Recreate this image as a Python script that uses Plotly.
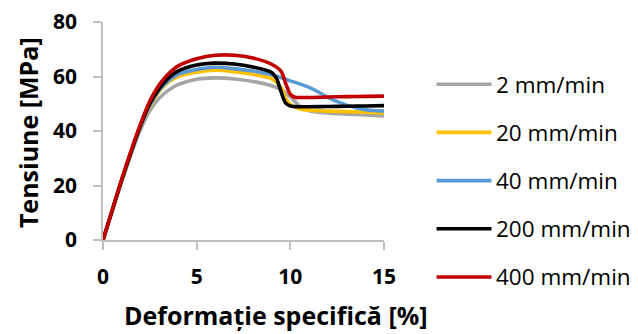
import plotly.graph_objects as go

# ---------------- data ----------------
series_names = ["2 mm/min", "20 mm/min", "40 mm/min", "200 mm/min", "400 mm/min"]
series_colors = ["#a5a5a5", "#ffc000", "#5b9bd5", "#000000", "#c00000"]

strain_2 = [0, 0.5, 1, 1.5, 2, 2.5, 3, 3.5, 4, 5, 6, 7, 8, 9, 9.5, 10, 10.5, 11, 12, 13, 14, 15]
stress_2 = [0, 11, 21.5, 31.5, 40.5, 47.5, 52, 55, 57, 59, 59.5, 59.1, 58.2, 56.6, 55.2, 52.5, 49.2, 47.4, 46.6, 46.2, 45.9, 45.5]

strain_20 = [0, 0.5, 1, 1.5, 2, 2.5, 3, 3.5, 4, 5, 6, 7, 8, 9, 9.5, 9.75, 10, 10.5, 11, 12, 13, 14, 15]
stress_20 = [0, 11, 22, 32, 41.5, 49, 54.5, 58, 60, 61.6, 62.3, 61.8, 60.8, 59.2, 56, 52, 49.8, 48.2, 47.6, 47.3, 47.1, 46.9, 46.6]

strain_40 = [0, 0.5, 1, 1.5, 2, 2.5, 3, 3.5, 4, 5, 6, 7, 8, 9, 10, 10.5, 11, 11.5, 12, 12.5, 13, 14, 15]
stress_40 = [0, 11, 22, 32, 41.5, 49.5, 55, 58.5, 60.8, 62.6, 63.4, 62.9, 62, 60.6, 58.4, 57.3, 56, 54.3, 52.3, 50.8, 49.5, 47.8, 47.3]

strain_200 = [0, 0.5, 1, 1.5, 2, 2.5, 3, 3.5, 4, 5, 6, 7, 8, 9, 9.25, 9.5, 9.75, 10, 10.5, 11, 12, 13, 14, 15]
stress_200 = [0, 11, 22, 32.3, 42, 50, 55.5, 59.5, 62, 64.2, 64.9, 64.6, 63.5, 61.5, 59.5, 54.5, 50.2, 49.2, 48.9, 48.9, 49, 49.1, 49.2, 49.3]

strain_400 = [0, 0.5, 1, 1.5, 2, 2.5, 3, 3.5, 4, 5, 6, 7, 8, 9, 9.5, 9.75, 10, 10.25, 10.5, 11, 12, 13, 14, 15]
stress_400 = [0, 11.2, 22.3, 32.8, 42.5, 51, 57, 61, 63.8, 66.5, 67.8, 67.8, 66.8, 64.5, 62, 57.5, 53.5, 52.4, 52.3, 52.3, 52.5, 52.6, 52.7, 52.8]

x_tick_vals = [0, 5, 10, 15]
y_tick_vals = [0, 20, 40, 60, 80]
x_title = "Deformație specifică [%]"
y_title = "Tensiune [MPa]"

strains = [strain_2, strain_20, strain_40, strain_200, strain_400]
stresses = [stress_2, stress_20, stress_40, stress_200, stress_400]

# ---------------- layout geometry (page pixels) ----------------
PAGE_W, PAGE_H = 638, 334
OFF = 8  # default body margin of the html page
W, H = PAGE_W - OFF, PAGE_H - OFF
PL, PR, PT, PB = 102.7, 384.3, 21.7, 240.0  # plot area edges on the page


def px_x(px):
    return (px - PL) / (PR - PL)


def px_y(py):
    return (PB - py) / (PB - PT)


FONT = "Open Sans"
axis_grey = "#bfbfbf"

fig = go.Figure()
for name, color, xs, ys in zip(series_names, series_colors, strains, stresses):
    fig.add_trace(go.Scatter(
        x=xs, y=ys, name=name, mode="lines",
        line=dict(color=color, width=3.6, shape="spline", smoothing=0.8),
        showlegend=False, hoverinfo="skip",
    ))

axis_common = dict(
    showline=True, linecolor=axis_grey, linewidth=1.5,
    ticks="outside", ticklen=8, tickcolor=axis_grey, tickwidth=1.5,
    showgrid=False, zeroline=False, ticklabeloverflow="allow", automargin=False,
    tickfont=dict(family=FONT, size=21, color="#000000", weight="bold"),
)

fig.update_xaxes(range=[0, 15], tickvals=x_tick_vals, ticklabelstandoff=9, **axis_common)
fig.update_yaxes(range=[0, 80], tickvals=y_tick_vals, ticklabelstandoff=12, **axis_common)

annotations = [
    dict(text=x_title, x=px_x(276.5), y=px_y(315.5), xref="paper", yref="paper",
         xanchor="center", yanchor="middle", showarrow=False,
         font=dict(family=FONT, size=25, color="#000000", weight="bold")),
    dict(text=y_title, x=px_x(27), y=px_y(132.5), xref="paper", yref="paper",
         xanchor="center", yanchor="middle", showarrow=False, textangle=-90,
         font=dict(family=FONT, size=25, color="#000000", weight="bold")),
]

# manual legend (sample line + label per series)
shapes = []
row0, row_gap = 84.0, 48.25
for i, (name, color) in enumerate(zip(series_names, series_colors)):
    yc = row0 + i * row_gap
    shapes.append(dict(type="line", xref="paper", yref="paper",
                       x0=px_x(437), x1=px_x(492), y0=px_y(yc), y1=px_y(yc),
                       line=dict(color=color, width=3.6)))
    annotations.append(dict(text=name, x=px_x(495), y=px_y(yc), xref="paper", yref="paper",
                            xanchor="left", yanchor="middle", showarrow=False,
                            font=dict(family=FONT, size=22.5, color="#000000")))

fig.update_layout(
    width=W, height=H,
    margin=dict(l=PL - OFF, r=PAGE_W - PR, t=PT - OFF, b=PAGE_H - PB, pad=0, autoexpand=False),
    paper_bgcolor="white", plot_bgcolor="white",
    annotations=annotations, shapes=shapes,
    showlegend=False,
)

fig.write_html("out.html")
